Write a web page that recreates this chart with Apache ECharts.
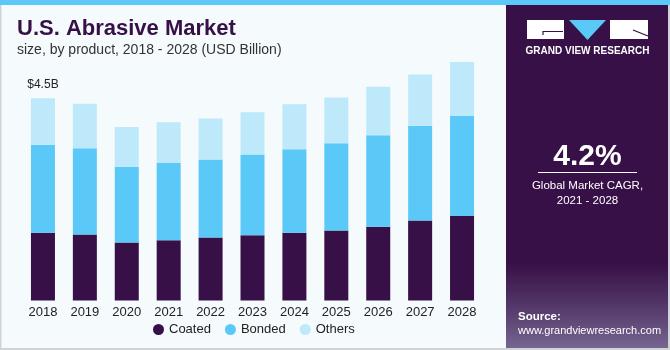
<!DOCTYPE html>
<html>
<head>
<meta charset="utf-8">
<script src="https://cdn.jsdelivr.net/npm/echarts@6/dist/echarts.min.js"></script>
<style>
  html, body { margin: 0; padding: 0; background: #f5fafd; }
  #chart { width: 670px; height: 350px; }
</style>
</head>
<body>
<div id="chart"></div>
<script>
'use strict'
var years = ['2018', '2019', '2020', '2021', '2022', '2023', '2024', '2025', '2026', '2027', '2028']
var coated = [1.51, 1.47, 1.29, 1.34, 1.40, 1.45, 1.51, 1.56, 1.64, 1.78, 1.88]
var bonded = [1.96, 1.92, 1.69, 1.72, 1.74, 1.80, 1.86, 1.94, 2.04, 2.11, 2.23]
var others = [1.03, 0.99, 0.88, 0.91, 0.91, 0.94, 1.00, 1.02, 1.08, 1.14, 1.20]
var seriesNames = ['Coated', 'Bonded', 'Others']
var colors = ['#371047', '#5bc9f7', '#bde9fa']

var font = 'Liberation Sans, Arial, sans-serif'
var myChart = echarts.init(document.getElementById('chart'))

function barSeries(name, data, color) {
	return {
		name: name,
		type: 'bar',
		stack: 'total',
		barWidth: 24,
		data: data,
		itemStyle: { color: color },
		emphasis: { disabled: true }
	}
}

var series = [
	barSeries(seriesNames[0], coated, colors[0]),
	barSeries(seriesNames[1], bonded, colors[1]),
	barSeries(seriesNames[2], others, colors[2])
]
// only the first bar carries the total label
series[2].label = {
	show: true,
	position: 'top',
	distance: 8,
	color: '#222',
	fontSize: 12,
	fontFamily: font,
	formatter: function (p) { return p.dataIndex === 0 ? '$4.5B' : '' }
}

var option = {
	backgroundColor: '#f5fafd',
	animation: false,
	textStyle: { fontFamily: font },
	grid: { left: 22, width: 461, top: 31, bottom: 49.5 },
	xAxis: {
		type: 'category',
		data: years,
		axisLine: { show: false },
		axisTick: { show: false },
		axisLabel: { color: '#222', fontSize: 13, margin: 5, fontFamily: font }
	},
	yAxis: {
		type: 'value',
		min: 0,
		max: 6,
		show: false
	},
	legend: {
		data: seriesNames,
		left: 153,
		top: 323,
		padding: 0,
		icon: 'circle',
		itemWidth: 11,
		itemHeight: 11,
		itemGap: 14,
		textStyle: { color: '#222', fontSize: 13, fontFamily: font }
	},
	series: series,
	graphic: [
		// top stripe and borders
		{ type: 'rect', shape: { x: 0, y: 0, width: 670, height: 5 }, style: { fill: '#5bc9f7' } },
		{ type: 'rect', shape: { x: 0, y: 5, width: 1.5, height: 345 }, style: { fill: '#cfd3d6' } },
		{ type: 'rect', shape: { x: 0, y: 348, width: 670, height: 2 }, style: { fill: '#cfd3d6' } },
		// right panel
		{ type: 'rect', shape: { x: 506, y: 5, width: 164, height: 343 }, style: { fill: '#371047' } },
		{ type: 'rect', shape: { x: 506, y: 262, width: 164, height: 86 },
			style: { fill: new echarts.graphic.LinearGradient(0, 0, 0, 1, [
				{ offset: 0, color: 'rgba(120,110,150,0)' },
				{ offset: 1, color: 'rgba(140,130,170,0.75)' }
			]) } },
		{ type: 'rect', shape: { x: 668, y: 5, width: 2, height: 345 }, style: { fill: '#cfd3d6' } },
		// logo
		{ type: 'rect', shape: { x: 527, y: 20, width: 37, height: 19 }, style: { fill: '#ffffff' } },
		{ type: 'polyline', shape: { points: [[543, 35], [543, 31.5], [563, 31.5]] }, style: { stroke: '#371047', lineWidth: 1.2, fill: null } },
		{ type: 'polygon', shape: { points: [[569, 20], [606, 20], [587.5, 40]] }, style: { fill: '#5bc9f7' } },
		{ type: 'rect', shape: { x: 610, y: 20, width: 38, height: 19 }, style: { fill: '#ffffff' } },
		{ type: 'line', shape: { x1: 633, y1: 30, x2: 648, y2: 36 }, style: { stroke: '#371047', lineWidth: 1.2 } },
		{ type: 'text', style: { text: 'GRAND VIEW RESEARCH', x: 587.5, y: 51, align: 'center', verticalAlign: 'middle',
			fill: '#ffffff', font: 'bold 10px ' + font } },
		// CAGR block
		{ type: 'text', style: { text: '4.2%', x: 587.5, y: 157, align: 'center', verticalAlign: 'middle',
			fill: '#ffffff', font: 'bold 30px ' + font } },
		{ type: 'line', shape: { x1: 538, y1: 172.5, x2: 637, y2: 172.5 }, style: { stroke: '#ffffff', lineWidth: 1 } },
		{ type: 'text', style: { text: 'Global Market CAGR,', x: 587.5, y: 186, align: 'center', verticalAlign: 'middle',
			fill: '#ffffff', font: '11.5px ' + font } },
		{ type: 'text', style: { text: '2021 - 2028', x: 587.5, y: 201, align: 'center', verticalAlign: 'middle',
			fill: '#ffffff', font: '11.5px ' + font } },
		// source
		{ type: 'text', style: { text: 'Source:', x: 518, y: 317, verticalAlign: 'middle',
			fill: '#ffffff', font: 'bold 11.5px ' + font } },
		{ type: 'text', style: { text: 'www.grandviewresearch.com', x: 518, y: 331, verticalAlign: 'middle',
			fill: '#ffffff', font: '11px ' + font } },
		// titles
		{ type: 'text', style: { text: 'U.S. Abrasive Market', x: 17, y: 29, verticalAlign: 'middle',
			fill: '#371047', font: 'bold 22px ' + font } },
		{ type: 'text', style: { text: 'size, by product, 2018 - 2028 (USD Billion)', x: 17, y: 50, verticalAlign: 'middle',
			fill: '#333333', font: '14px ' + font } }
	]
}

myChart.setOption(option)
window.onresize = myChart.resize
</script>
</body>
</html>
